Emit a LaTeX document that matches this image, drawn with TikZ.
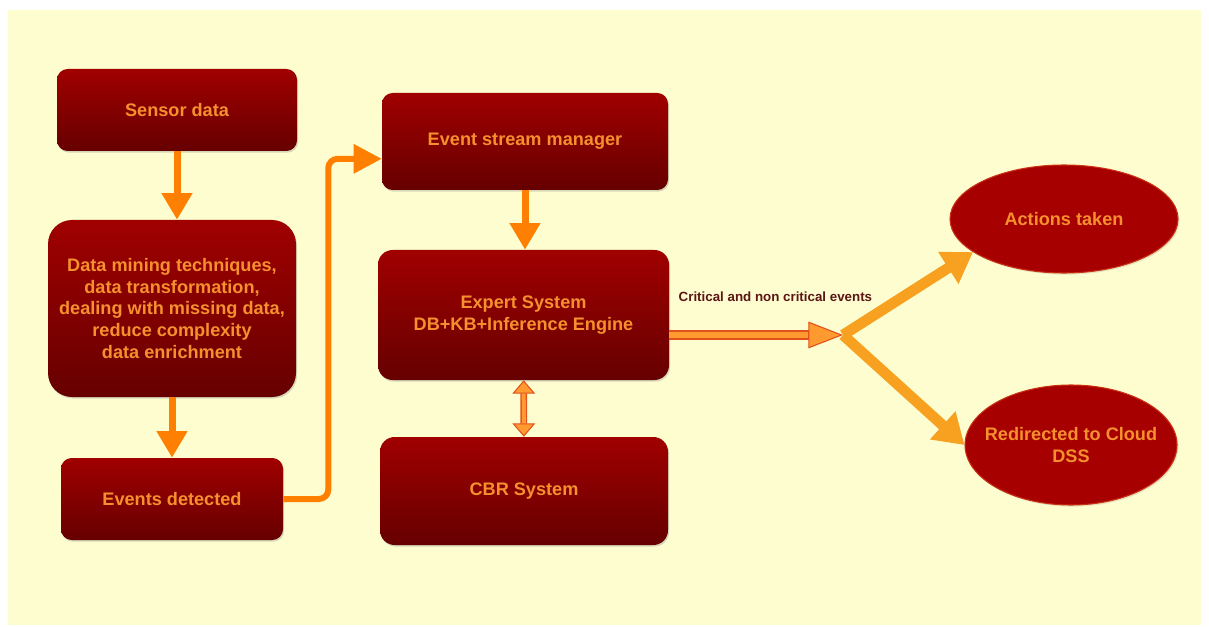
\documentclass[tikz,border=0pt]{standalone}
\usepackage{fontspec}
\setmainfont{Liberation Sans}
\usetikzlibrary{arrows.meta,shadows,shapes.geometric}

\definecolor{bgyellow}{HTML}{FDFDCF}
\definecolor{boxtop}{HTML}{A00000}
\definecolor{boxbot}{HTML}{660000}
\definecolor{txtorange}{HTML}{F5902E}
\definecolor{flowor}{HTML}{FF8000}
\definecolor{branchor}{HTML}{F8A020}
\definecolor{rimor}{HTML}{E2501C}
\definecolor{fillor}{HTML}{FF9A30}
\definecolor{labbrown}{HTML}{5C1616}
\definecolor{ellred}{HTML}{A60000}

\tikzset{
  boxtxt/.style={text=txtorange,font=\fontsize{13.6}{16.3}\selectfont\bfseries,align=center},
  stepbox/.style={boxtxt,rounded corners=8pt,top color=boxtop,bottom color=boxbot,
    drop shadow={opacity=0.3,shadow xshift=0.8pt,shadow yshift=-1.2pt}},
  oval/.style={ellipse,fill=ellred,draw=rimor!60!ellred,line width=0.8pt,inner sep=0pt,
    drop shadow={opacity=0.2,shadow xshift=1pt,shadow yshift=-1.2pt}},
  flowarrow/.style={draw=flowor,line width=5.25pt,-{Triangle[length=20pt,width=22pt]}},
  branch/.style={draw=branchor,line width=8pt,-{Triangle[length=22pt,width=27pt]}},
  rimline/.style={draw=rimor,line width=#1},
  smallrim/.tip={Triangle[length=10pt,width=17pt,fill=fillor,line width=0.8pt]},
  bigrim/.tip={Triangle[length=26pt,width=20pt,fill=fillor,line width=0.8pt]}
}

\begin{document}
\begin{tikzpicture}[x=0.75pt,y=-0.75pt]
\useasboundingbox (0,0) rectangle (1209,627);
\fill[white] (0,0) rectangle (1209,627);
\fill[bgyellow] (8,10) rectangle (1201,625);

\node[stepbox,minimum width=180pt,minimum height=61.5pt] (sens) at (177,110) {Sensor data};
\node[stepbox,rounded corners=18pt,minimum width=186pt,minimum height=132.75pt] (mine) at (172,308.5)
 {Data mining techniques,\\data transformation,\\dealing with missing data,\\reduce complexity\\data enrichment};
\node[stepbox,minimum width=166.5pt,minimum height=61.5pt] (ev) at (172,499) {Events detected};
\node[stepbox,minimum width=214.5pt,minimum height=72.75pt] (esm) at (525,141.5) {Event stream manager};
\node[stepbox,rounded corners=11pt,minimum width=218.25pt,minimum height=97.5pt] (exp) at (523.5,315)
 {Expert System\\DB+KB+Inference Engine};
\node[stepbox,rounded corners=11pt,minimum width=216pt,minimum height=81pt] (cbr) at (524,491) {CBR System};
\node[oval,minimum width=171pt,minimum height=81pt,label={[boxtxt]center:Actions taken}] (act) at (1064,219) {};
\node[oval,minimum width=159pt,minimum height=90pt,label={[boxtxt]center:Redirected to Cloud\\DSS}] (redir) at (1071,445) {};
\node[anchor=west,text=labbrown,font=\fontsize{10}{12}\selectfont\bfseries] (crit) at (674,297)
 {Critical and non critical events};
\coordinate (junc) at (843,335);

\foreach \a/\b in {sens/mine,mine/ev,esm/exp}
 {\draw[flowarrow] (\a.south) -- (\a.south |- \b.north);}
\draw[draw=flowor,line width=4.5pt,rounded corners=7pt,-{Triangle[length=21pt,width=21pt]}]
 (ev.east) -- ++(45,0) |- ([yshift=-13pt]esm.west);

\draw[rimline=5pt,{smallrim}-{smallrim}] (exp) -- (cbr);
\draw[draw=fillor,line width=3pt,shorten <=10pt,shorten >=10pt] (exp) -- (cbr);

\draw[rimline=7pt,-{bigrim}] (exp.east |- junc) -- (junc);
\draw[draw=fillor,line width=4.2pt,shorten >=26pt] (exp.east |- junc) -- (junc);

\draw[branch] (junc) -- (act.200);
\draw[branch] (junc) -- (redir.west);
\end{tikzpicture}
\end{document}
